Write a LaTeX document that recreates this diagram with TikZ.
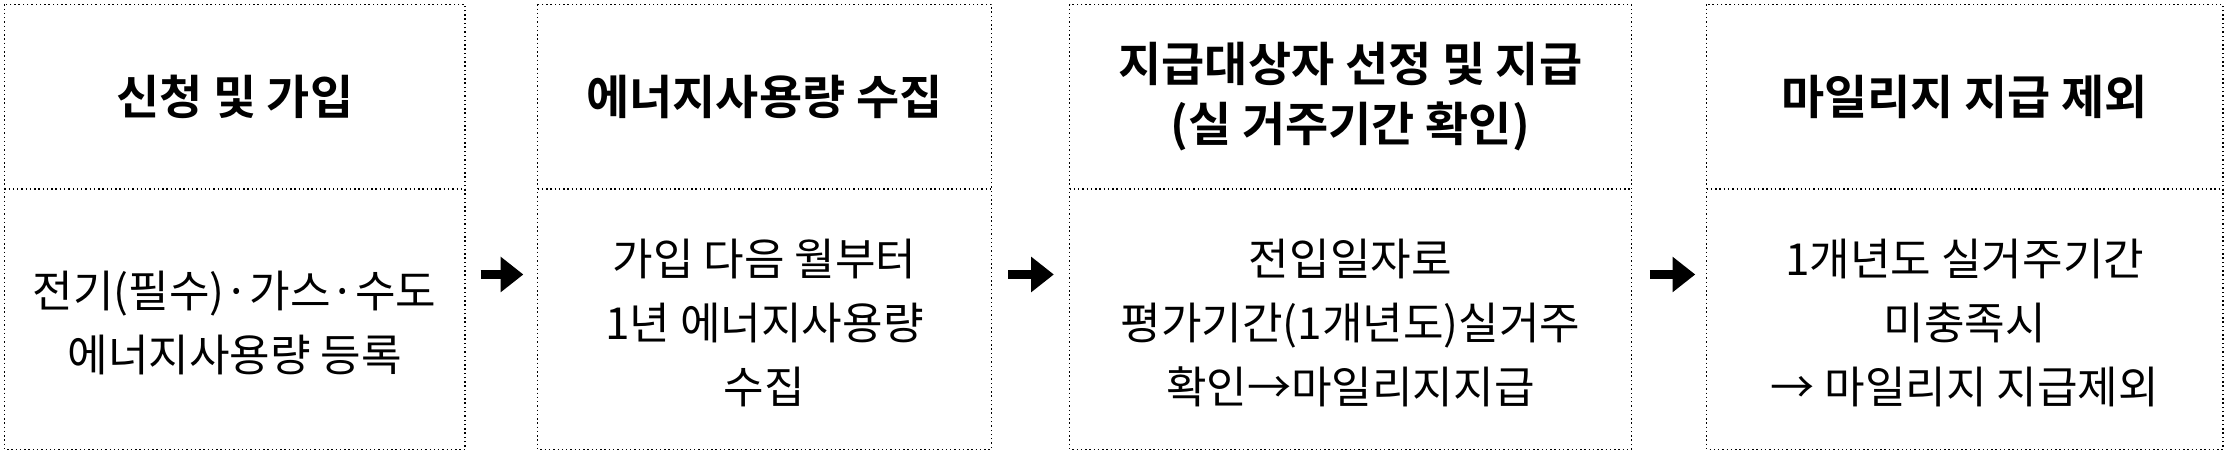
\documentclass[tikz,border=0pt]{standalone}
\usepackage{fontspec}
\setmainfont{Noto Sans CJK KR}
\newfontfamily\kb{Noto Sans CJK KR Bold}
\usetikzlibrary{arrows.meta}
\begin{document}
\begin{tikzpicture}[x=1pt,y=-1pt,
  boxl/.style={draw,dotted,line width=1pt},
  head/.style={font=\kb\fontsize{33}{42}\selectfont,align=center},
  body/.style={font=\fontsize{31}{45}\selectfont,align=center},
  arr/.style={-{Triangle[length=16pt,width=24pt]},line width=6pt}]
\useasboundingbox (0,0) rectangle (1568,319);
\foreach \n/\a/\b in {1/3/327,2/378/697,3/752/1147,4/1200/1563}{
  \draw[boxl] (\a,3) rectangle (\b,316);
  \draw[boxl] (\a,133) -- (\b,133);
  \coordinate (h\n) at ({(\a+\b)/2},68);
  \coordinate (t\n) at ({(\a+\b)/2},227);
}
\node[head] (H1) at (h1) {신청 및 가입};
\node[head] (H2) at (h2) {에너지사용량 수집};
\node[head] (H3) at (h3) {지급대상자 선정 및 지급\\(실 거주기간 확인)};
\node[head] (H4) at (h4) {마일리지 지급 제외};
\node[body] (B1) at (t1) {전기(필수)·가스·수도\\에너지사용량 등록};
\node[body] (B2) at (t2) {가입 다음 월부터\\1년 에너지사용량\\수집};
\node[body] (B3) at (t3) {전입일자로\\평가기간(1개년도)실거주\\확인→마일리지지급};
\node[body] (B4) at (t4) {1개년도 실거주기간\\미충족시\\→ 마일리지 지급제외};
\coordinate (a1) at (338,193); \coordinate (b1) at (368,193);
\coordinate (a2) at (709,193); \coordinate (b2) at (741,193);
\coordinate (a3) at (1160,193); \coordinate (b3) at (1192,193);
\foreach \i in {1,2,3}{\draw[arr] (a\i) -- (b\i);}
\end{tikzpicture}
\end{document}
